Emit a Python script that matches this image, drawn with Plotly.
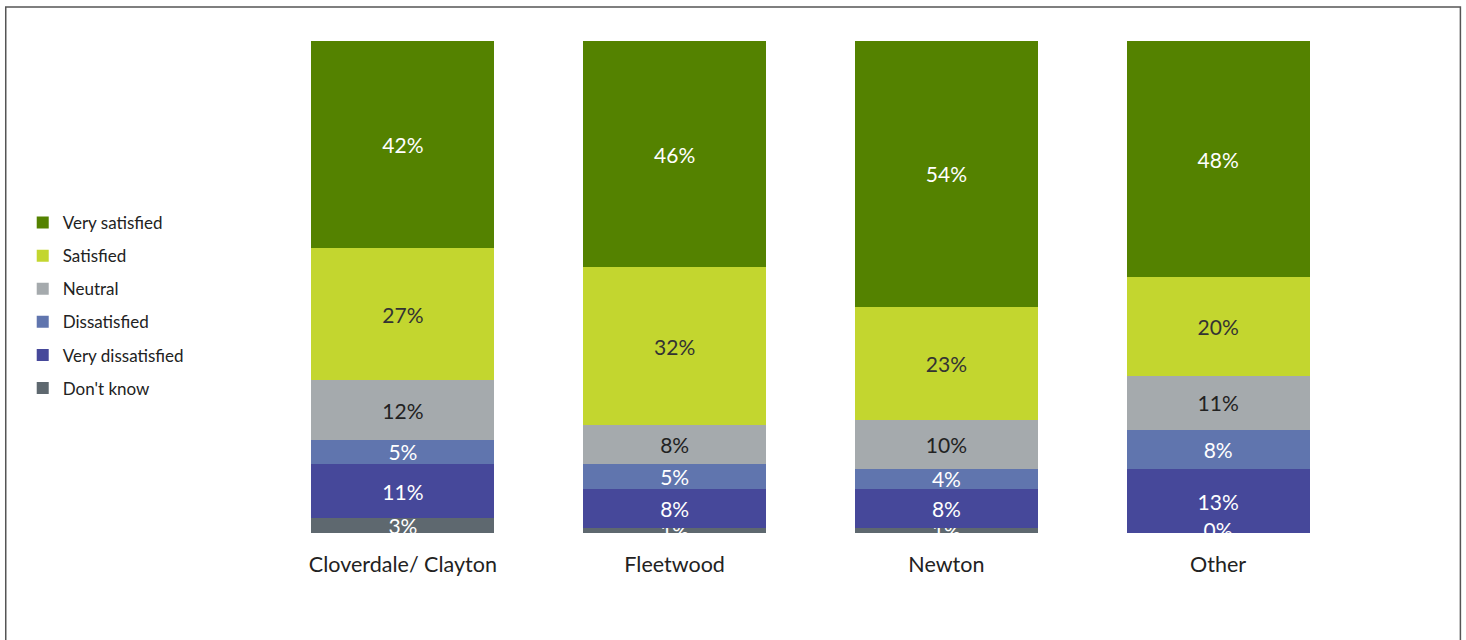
import plotly.graph_objects as go

categories = ["Cloverdale/ Clayton", "Fleetwood", "Newton", "Other"]
series_names = ["Don't know", "Very dissatisfied", "Dissatisfied", "Neutral", "Satisfied", "Very satisfied"]
dont_know = [3, 1, 1, 0]
very_dissatisfied = [11, 8, 8, 13]
dissatisfied = [5, 5, 4, 8]
neutral = [12, 8, 10, 11]
satisfied = [27, 32, 23, 20]
very_satisfied = [42, 46, 54, 48]
series_values = [dont_know, very_dissatisfied, dissatisfied, neutral, satisfied, very_satisfied]

colors = ["#5E686F", "#46489A", "#6075AE", "#A5AAAD", "#C3D62F", "#548200"]
text_colors = ["white", "white", "white", "#222222", "#333333", "white"]

W, H = 1466, 640
L, R, T, B = 266.5, 111.5, 41, 107
pw, ph = W - L - R, H - T - B
FONT = "Lato, sans-serif"

fig = go.Figure()
base = [0] * len(categories)
zero_x, zero_y, zero_t, zero_c = [], [], [], []
n = len(series_names)
for i, (name, vals) in enumerate(zip(series_names, series_values)):
    fig.add_trace(go.Bar(
        x=categories, y=vals, name=name,
        marker=dict(color=colors[i], line=dict(width=0)),
        text=[f"{v}%" for v in vals],
        textposition="inside", insidetextanchor="middle",
        textfont=dict(size=21, color=text_colors[i], family=FONT),
        legendgroup=name, legendrank=n - i,
        cliponaxis=True,
    ))
    for j, v in enumerate(vals):
        if v == 0:
            zero_x.append(categories[j])
            zero_y.append(base[j])
            zero_t.append(f"{v}%")
            zero_c.append(text_colors[i])
        base[j] += v

if zero_x:
    fig.add_trace(go.Scatter(
        x=zero_x, y=zero_y, text=zero_t, mode="text",
        textfont=dict(size=21, color=zero_c, family=FONT),
        showlegend=False, hoverinfo="skip", cliponaxis=True,
    ))

fig.update_layout(
    width=W, height=H,
    barmode="stack", bargap=1 - 183 / 272,
    margin=dict(l=L, r=R, t=T, b=B),
    paper_bgcolor="white", plot_bgcolor="white",
    font=dict(family=FONT, color="#222222"),
    uniformtext=dict(minsize=21, mode="show"),
    showlegend=True,
    legend=dict(
        x=(22 - L) / pw, xanchor="left",
        y=(533 - 305.5) / ph, yanchor="middle",
        traceorder="grouped",
        tracegroupgap=8,
        font=dict(size=17, color="#222222"),
        itemwidth=30,
        bgcolor="rgba(0,0,0,0)",
    ),
    xaxis=dict(showline=False, showgrid=False, zeroline=False, ticks="",
               tickfont=dict(size=21.5, color="#222222"), ticklabelstandoff=16),
    yaxis=dict(range=[0, 100], visible=False, showgrid=False, zeroline=False),
)

fig.add_shape(type="rect", xref="paper", yref="paper",
              x0=(5 - L) / pw, x1=(1461 - L) / pw,
              y0=(533 - 660) / ph, y1=(533 - 7) / ph,
              line=dict(color="#555555", width=1.5), fillcolor="rgba(0,0,0,0)", layer="below")

fig.write_html("out.html", config={"displayModeBar": False},
               post_script="document.body.style.margin='0';document.body.style.overflow='hidden';")
